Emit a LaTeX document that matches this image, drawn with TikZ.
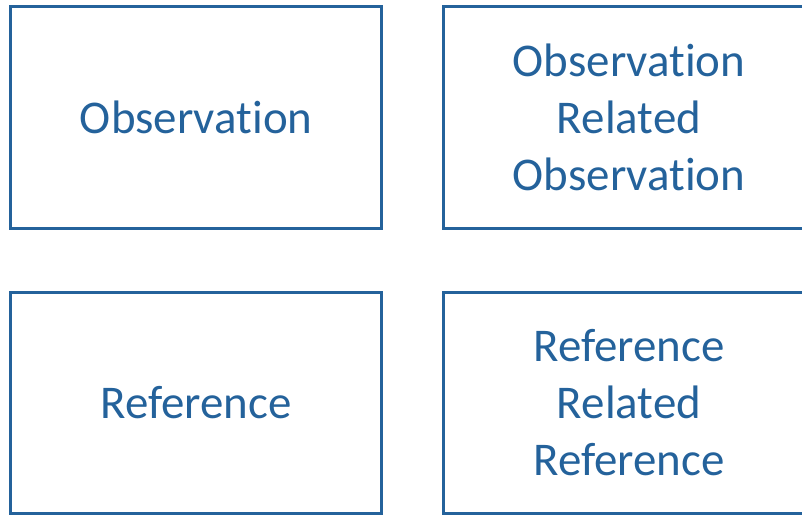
\documentclass[tikz,border=0pt]{standalone}
\usepackage{fontspec}
\setmainfont[Ligatures=NoCommon]{Carlito}
\definecolor{boxblue}{RGB}{36,98,155}
\begin{document}
\begin{tikzpicture}[x=0.75pt,y=-0.75pt,
  panel/.style={draw=boxblue, line width=2.2pt, rectangle,
    minimum width=278.6pt, minimum height=166.1pt, inner sep=0pt,
    align=center, text=boxblue,
    font=\fontsize{35.2}{42.75}\selectfont}]
  \useasboundingbox (0,0) rectangle (802,515);
  \clip (0,0) rectangle (802,515);
  \node[panel] (obs)    at (196.2,117.3) {Observation};
  \node[panel] (obsrel) at (629,117.3)   {Observation\\Related\\Observation};
  \node[panel] (ref)    at (196.2,402.8) {Reference};
  \node[panel] (refrel) at (629,402.8)   {Reference\\Related\\Reference};
\end{tikzpicture}
\end{document}
